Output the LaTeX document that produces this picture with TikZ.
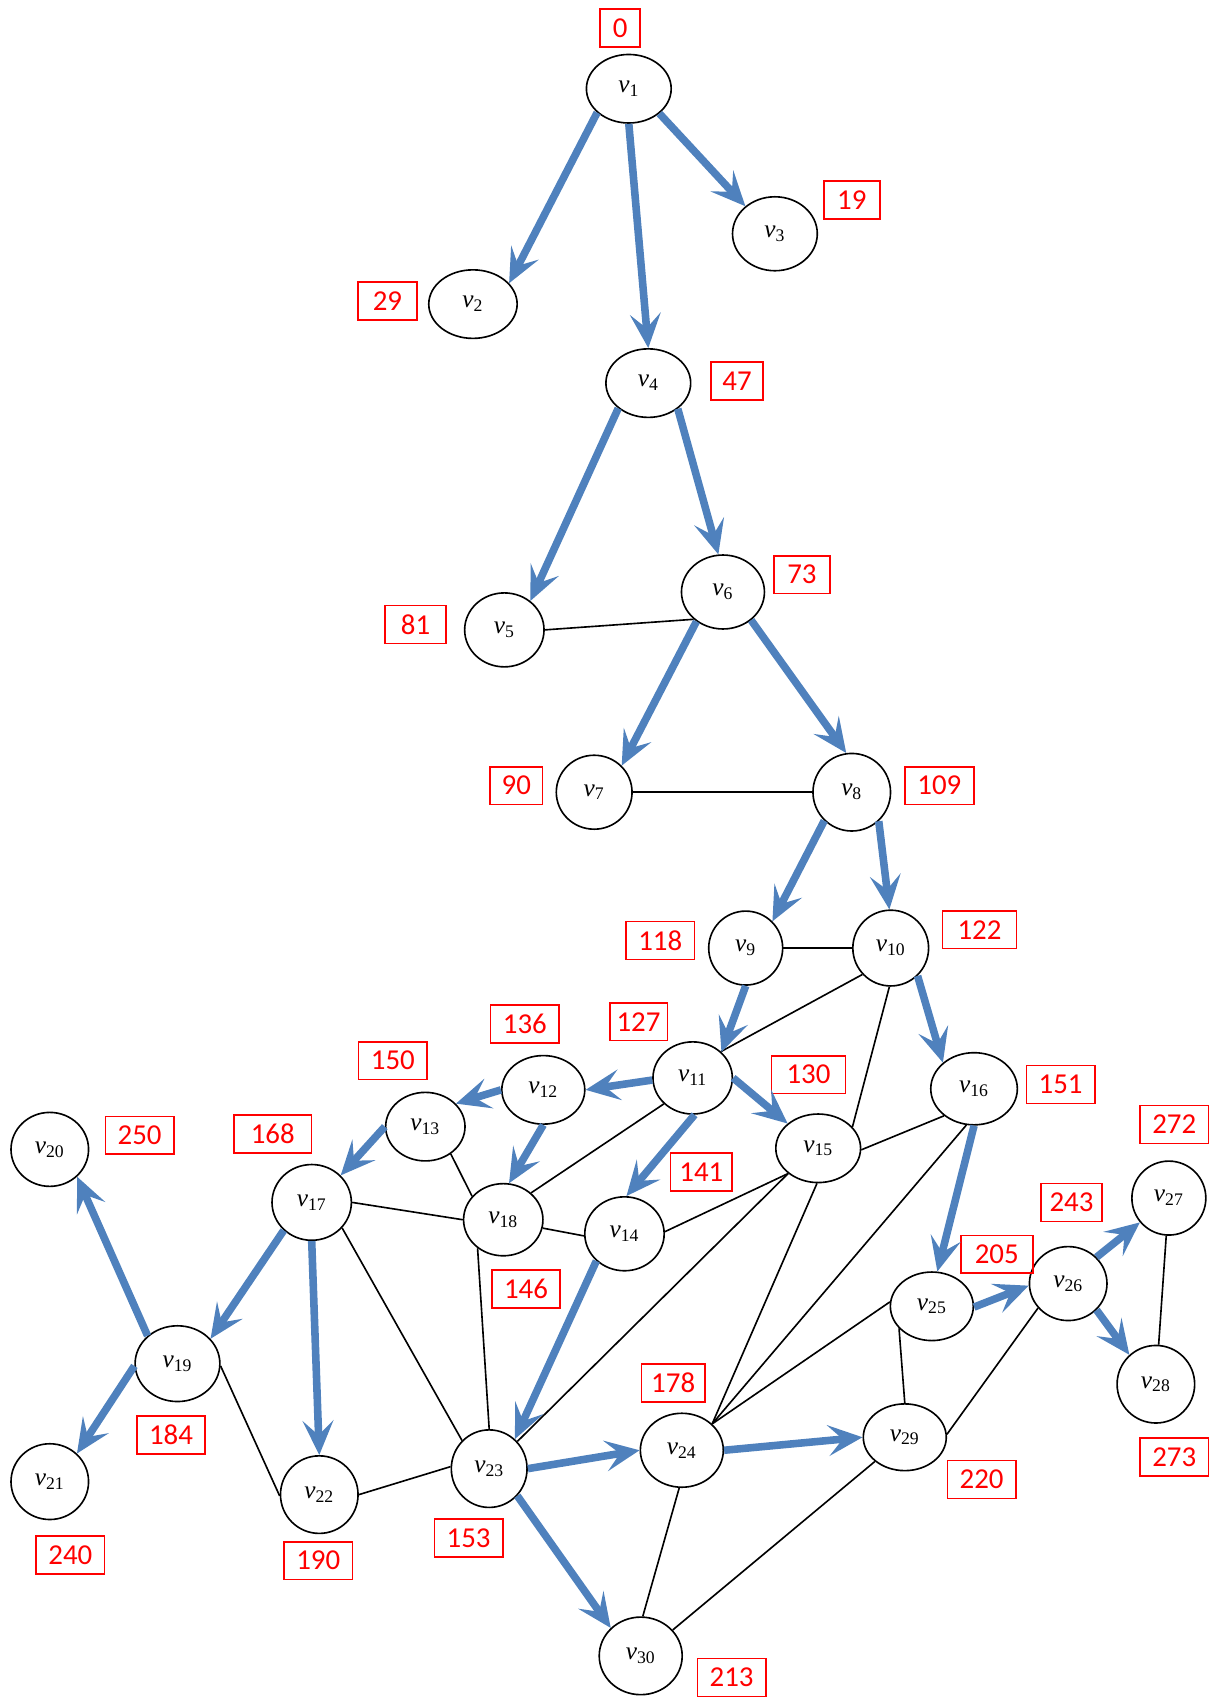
\documentclass[tikz,border=0pt]{standalone}
\usepackage{fontspec}
\setmainfont{Liberation Serif}
\newfontfamily\numfont{Carlito}
\usepackage{xcolor}
\usetikzlibrary{shapes,arrows.meta,positioning}

\definecolor{treeblue}{RGB}{79,129,189}
\newcommand{\vl}[1]{\textit{v}\textsubscript{#1}}

\begin{document}
\begin{tikzpicture}[x=0.6pt, y=-0.6pt,
    vtx/.style={ellipse, draw, line width=0.9pt, minimum width=44pt, minimum height=41pt, inner sep=0pt, font=\fontsize{14}{16}\selectfont},
    flat/.style={minimum width=47pt, minimum height=38pt},
    num/.style={rectangle, draw=red, text=red, line width=0.9pt, minimum width=38pt, minimum height=21pt, inner sep=1pt, font=\numfont\fontsize{16}{18}\selectfont},
    tree/.style={-{Stealth[length=19pt, width=17pt, inset=8pt]}, treeblue, line width=4.2pt},
    link/.style={line width=0.9pt}]

    \useasboundingbox (0,0) rectangle (1129,1568);

    % Vertices
    \node[vtx, flat] (v1) at (581,82) {\vl{1}};
    \node[vtx, flat, minimum width=49pt] (v2) at (437,281) {\vl{2}};
    \node[vtx, minimum width=47pt] (v3) at (716,216) {\vl{3}};
    \node[vtx, flat] (v4) at (599,354) {\vl{4}};
    \node[vtx] (v5) at (466,582) {\vl{5}};
    \node[vtx, minimum width=46pt] (v6) at (668,547) {\vl{6}};
    \node[vtx, minimum width=42pt] (v7) at (549,732) {\vl{7}};
    \node[vtx, minimum width=43pt, minimum height=43pt] (v8) at (787,732) {\vl{8}};
    \node[vtx, minimum width=41pt] (v9) at (689,876) {\vl{9}};
    \node[vtx, minimum width=42pt, minimum height=42pt] (v10) at (823,876) {\vl{10}};
    \node[vtx, minimum height=40pt] (v11) at (640,996) {\vl{11}};
    \node[vtx, flat, minimum width=46pt] (v12) at (502,1007) {\vl{12}};
    \node[vtx, flat, minimum width=44pt] (v13) at (393,1041) {\vl{13}};
    \node[vtx] (v14) at (577,1140) {\vl{14}};
    \node[vtx, flat] (v15) at (756,1061) {\vl{15}};
    \node[vtx, flat, minimum width=48pt, minimum height=40pt] (v16) at (900,1006) {\vl{16}};
    \node[vtx, minimum height=42pt] (v17) at (288,1111) {\vl{17}};
    \node[vtx, minimum height=40pt] (v18) at (465,1127) {\vl{18}};
    \node[vtx, minimum width=47pt, minimum height=42pt] (v19) at (164,1260) {\vl{19}};
    \node[vtx, minimum width=43pt] (v20) at (46,1062) {\vl{20}};
    \node[vtx, minimum width=43pt, minimum height=42pt] (v21) at (46,1369) {\vl{21}};
    \node[vtx, minimum width=43pt, minimum height=43pt] (v22) at (295,1381) {\vl{22}};
    \node[vtx, minimum width=42pt, minimum height=43pt] (v23) at (452,1357) {\vl{23}};
    \node[vtx, minimum width=46pt] (v24) at (630,1340) {\vl{24}};
    \node[vtx, flat, minimum width=46pt] (v25) at (861,1207) {\vl{25}};
    \node[vtx, minimum width=43pt] (v26) at (987,1186) {\vl{26}};
    \node[vtx, minimum width=41pt] (v27) at (1080,1107) {\vl{27}};
    \node[vtx, minimum width=43pt, minimum height=43pt] (v28) at (1068,1279) {\vl{28}};
    \node[vtx, flat, minimum width=46pt, minimum height=37pt] (v29) at (836,1328) {\vl{29}};
    \node[vtx, minimum width=46pt, minimum height=43pt] (v30) at (592,1530) {\vl{30}};

    % Labels
    \node[num, minimum width=22pt] (n1) at (573,26) {0};
    \node[num, minimum width=31pt] (n3) at (787,185) {19};
    \node[num, minimum width=33pt] (n2) at (358,278) {29};
    \node[num, minimum width=29pt] (n4) at (681,352) {47};
    \node[num, minimum width=31pt] (n6) at (741,531) {73};
    \node[num, minimum width=34pt] (n5) at (384,577) {81};
    \node[num, minimum width=29pt] (n7) at (477,726) {90};
    \node[num] (n8) at (868,726) {109};
    \node[num] (n9) at (610,869) {118};
    \node[num, minimum width=41pt] (n10) at (905,859) {122};
    \node[num, minimum width=32pt] (n11) at (590,944) {127};
    \node[num, minimum width=41pt] (n15) at (747,993) {130};
    \node[num] (n12) at (485,946) {136};
    \node[num] (n13) at (363,980) {150};
    \node[num] (n16) at (980,1002) {151};
    \node[num, minimum width=43pt] (n17) at (252,1048) {168};
    \node[num] (n20) at (129,1049) {250};
    \node[num, minimum width=34pt] (n14) at (648,1083) {141};
    \node[num] (n18) at (486,1191) {146};
    \node[num, minimum width=34pt] (n27) at (990,1111) {243};
    \node[num, minimum width=40pt] (n25) at (921,1159) {205};
    \node[num] (n26) at (1085,1039) {272};
    \node[num] (n28) at (1085,1346) {273};
    \node[num, minimum width=35pt] (n24) at (622,1278) {178};
    \node[num] (n19) at (158,1326) {184};
    \node[num] (n29) at (907,1367) {220};
    \node[num] (n21) at (65,1437) {240};
    \node[num] (n22) at (294,1442) {190};
    \node[num] (n23) at (433,1421) {153};
    \node[num] (n30) at (676,1550) {213};

    % Remaining edges
    \draw[link] (v5.0) -- (v6.223);
    \draw[link] (v7) -- (v8);
    \draw[link] (v9) -- (v10);
    \draw[link] (v10.223) -- (v11.43);
    \draw[link] (v10.268) -- (v15.32);
    \draw[link] (v11.222) -- (v18.44);
    \draw[link] (v13.313) -- (v18.143);
    \draw[link] (v15.358) -- (v16.222);
    \draw[link] (v15.220) -- (v14.3);
    \draw[link] (v15.220) -- (v23.44);
    \draw[link] (v15.268) -- (v24.41);
    \draw[link] (v16.258) -- (v24.41);
    \draw[link] (v17.0) -- (v18.180);
    \draw[link] (v17.320) -- (v23.134);
    \draw[link] (v18.348) -- (v14.183);
    \draw[link] (v18.228) -- (v23.90);
    \draw[link] (v19.357) -- (v22.182);
    \draw[link] (v22.0) -- (v23.177);
    \draw[link] (v24.41) -- (v25.174);
    \draw[link] (v25.214) -- (v29.90);
    \draw[link] (v24.266) -- (v30.87);
    \draw[link] (v29.219) -- (v30.39);
    \draw[link] (v26.219) -- (v29.4);
    \draw[link] (v27) -- (v28);

    % Tree edges
    \draw[tree] (v1.217) -- (v2.30);
    \draw[tree] (v1.270) -- (v4.90);
    \draw[tree] (v1.321) -- (v3.137);
    \draw[tree] (v4.220) -- (v5.48);
    \draw[tree] (v4.319) -- (v6.97);
    \draw[tree] (v6.228) -- (v7.44);
    \draw[tree] (v6.315) -- (v8.98);
    \draw[tree] (v8.226) -- (v9.45);
    \draw[tree] (v8.313) -- (v10.92);
    \draw[tree] (v9.270) -- (v11.42);
    \draw[tree] (v10.314) -- (v16.140);
    \draw[tree] (v11.183) -- (v12.0);
    \draw[tree] (v11.0) -- (v15.141);
    \draw[tree] (v11.273) -- (v14.87);
    \draw[tree] (v12.180) -- (v13.37);
    \draw[tree] (v12.270) -- (v18.81);
    \draw[tree] (v13.180) -- (v17.43);
    \draw[tree] (v17.225) -- (v19.37);
    \draw[tree] (v17.270) -- (v22.90);
    \draw[tree] (v19.137) -- (v20.315);
    \draw[tree] (v19.183) -- (v21.46);
    \draw[tree] (v14.224) -- (v23.49);
    \draw[tree] (v23.0) -- (v24.180);
    \draw[tree] (v23.316) -- (v30.137);
    \draw[tree] (v24.0) -- (v29.180);
    \draw[tree] (v16.270) -- (v25.81);
    \draw[tree] (v25.359) -- (v26.183);
    \draw[tree] (v26.43) -- (v27.220);
    \draw[tree] (v26.317) -- (v28.132);

\end{tikzpicture}
\end{document}
